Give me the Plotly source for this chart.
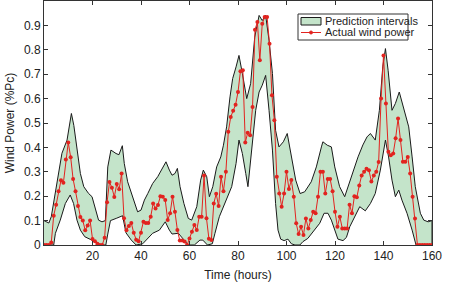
import plotly.graph_objects as go

# Actual wind power, hourly from t=0 to t=160
hours = list(range(0, 161))
actual = [
    0, 0, 0, 0.01, 0.12, 0.165, 0.22, 0.265, 0.255, 0.35,          # 0-9
    0.42, 0.36, 0.27, 0.22, 0.16, 0.115, 0.10, 0.06, 0.08, 0.10,   # 10-19
    0.025, 0.015, 0.005, 0, 0, 0.03, 0.175, 0.258, 0.235, 0.197,   # 20-29
    0.25, 0.228, 0.293, 0.11, 0.06, 0.078, 0.09, 0.05, 0.022, 0.015,  # 30-39
    0.05, 0.095, 0.09, 0.09, 0.116, 0.17, 0.15, 0.164, 0.2, 0.198,    # 40-49
    0.184, 0.102, 0.13, 0.198, 0.136, 0.061, 0.018, 0.018, 0.014, 0,  # 50-59
    0.027, 0.054, 0.082, 0.061, 0.116, 0.116, 0.285, 0.11, 0.026, 0.02,  # 60-69
    0.17, 0.21, 0.16, 0.28, 0.22, 0.30, 0.464, 0.525, 0.55, 0.575,   # 70-79
    0.627, 0.712, 0.716, 0.42, 0.46, 0.45, 0.566, 0.882, 0.914, 0.757,  # 80-89
    0.907, 0.934, 0.934, 0.825, 0.614, 0.511, 0.28, 0.211, 0.157, 0.211,  # 90-99
    0.30, 0.23, 0.266, 0.198, 0.089, 0.045, 0.075, 0.041, 0.109, 0.068,  # 100-109
    0.102, 0.136, 0.13, 0.198, 0.30, 0.30, 0.211, 0.27, 0.27, 0.22,    # 110-119
    0.136, 0.075, 0.116, 0.068, 0.068, 0.068, 0.165, 0.13, 0.2, 0.196,  # 120-129
    0.244, 0.285, 0.30, 0.312, 0.306, 0.26, 0.285, 0.30, 0.34, 0.6,    # 130-139
    0.777, 0.58, 0.382, 0.368, 0.375, 0.437, 0.518, 0.43, 0.341, 0.341,  # 140-149
    0.361, 0.293, 0.198, 0.109, 0, 0, 0, 0, 0, 0,                       # 150-159
    0,                                                                   # 160
]

# Upper prediction bound (time, value)
upper_t = [0, 1, 2, 3, 5.4, 7.4, 9.5, 11.3, 12.3, 13.6, 15, 16.4, 18.4, 19.8, 21.2,
           22.5, 23.9, 25.3, 26.3, 27.6, 29.7, 30.9, 32.3, 33.1, 34.5, 36.6, 38.6,
           40, 41.4, 42.8, 44.8, 46.9, 48.7, 50.3, 51.7, 52.8, 54, 55, 56.1, 57.7,
           59.5, 60.9, 63, 64.6, 65.7, 67.1, 68.2, 69.6, 71.2, 72.9, 74, 75.3, 76.7,
           77.8, 79.2, 80.4, 81.8, 83.6, 85.2, 86.9, 88.7, 90, 91.4, 92.8, 94.2,
           95.5, 96.9, 98.7, 100.3, 102, 103.8, 105.6, 107.5, 110.2, 112.3, 114.4,
           115, 116.8, 118.5, 119.9, 121.9, 124, 125.4, 127.4, 129.5, 131.5, 133.2,
           134.6, 136.6, 138.3, 139.7, 140.8, 141.9, 143.5, 144.9, 146.5, 148.3,
           150.4, 151.8, 153.1, 155.2, 156.6, 158.4, 160]
upper_v = [0.1, 0.095, 0.09, 0.116, 0.266, 0.376, 0.43, 0.539, 0.49, 0.389, 0.293,
           0.239, 0.211, 0.198, 0.143, 0.102, 0.095, 0.1, 0.32, 0.389, 0.375, 0.37,
           0.407, 0.334, 0.259, 0.198, 0.136, 0.143, 0.184, 0.211, 0.252, 0.28,
           0.314, 0.341, 0.307, 0.286, 0.293, 0.314, 0.239, 0.17, 0.109, 0.102,
           0.157, 0.266, 0.307, 0.28, 0.198, 0.239, 0.32, 0.361, 0.409, 0.484,
           0.607, 0.682, 0.73, 0.777, 0.703, 0.6, 0.661, 0.852, 0.941, 0.92, 0.941,
           0.839, 0.703, 0.47, 0.402, 0.423, 0.457, 0.361, 0.266, 0.211, 0.218,
           0.259, 0.32, 0.402, 0.423, 0.409, 0.402, 0.32, 0.239, 0.198, 0.239,
           0.293, 0.361, 0.41, 0.443, 0.457, 0.43, 0.552, 0.73, 0.805, 0.716,
           0.552, 0.58, 0.627, 0.566, 0.484, 0.361, 0.239, 0.13, 0.102, 0.095, 0.1]

# Lower prediction bound (time, value)
lower_t = [0, 4, 4.7, 6.7, 8.8, 10.8, 12.2, 13.6, 15, 16.8, 19.1, 21.3, 23, 25.5,
           26.3, 27.4, 30, 32.4, 33.8, 36, 38, 40.7, 42.8, 44.8, 47.6, 50, 51.7,
           52.8, 55.4, 57.5, 59.5, 62, 64.3, 65.5, 67.4, 69.4, 70.5, 72.3, 74, 76,
           77.4, 79.2, 80.4, 81.8, 83.2, 84.1, 85.9, 87.3, 88.7, 90, 91.4, 92.8,
           94.2, 95.5, 96.5, 97.6, 99, 100.6, 102, 103.5, 105.5, 106.8, 108.8,
           111.6, 113.7, 115.5, 117.1, 118.5, 119.9, 121.2, 123.3, 124.7, 126.1,
           128.1, 130.2, 132.5, 134.6, 136.6, 138.7, 140.8, 142.1, 143.5, 144.9,
           146.3, 147.6, 149.7, 151.8, 153.4, 160]
lower_v = [0, 0, 0.048, 0.102, 0.17, 0.205, 0.17, 0.102, 0.061, 0.034, 0.023,
           0.014, 0, 0, 0.045, 0.1, 0.11, 0.12, 0.05, 0.02, 0, 0.005, 0.027, 0.048,
           0.061, 0.095, 0.061, 0.045, 0.048, 0.024, 0, 0, 0.02, 0.02, 0, 0.005,
           0.048, 0.116, 0.157, 0.205, 0.239, 0.334, 0.43, 0.375, 0.293, 0.239,
           0.416, 0.552, 0.627, 0.655, 0.695, 0.552, 0.389, 0.17, 0.061, 0.024,
           0.018, 0.024, 0.005, 0, 0, 0.014, 0.027, 0.061, 0.089, 0.13, 0.13,
           0.102, 0.061, 0.024, 0.018, 0.031, 0.075, 0.116, 0.157, 0.14, 0.17,
           0.211, 0.307, 0.43, 0.361, 0.266, 0.198, 0.225, 0.184, 0.13, 0.061, 0, 0]

x_ticks = [20, 40, 60, 80, 100, 120, 140, 160]
y_ticks = [0, 0.1, 0.2, 0.3, 0.4, 0.5, 0.6, 0.7, 0.8, 0.9]
y_tick_text = ["0", "0.1", "0.2", "0.3", "0.4", "0.5", "0.6", "0.7", "0.8", "0.9"]
legend_labels = ["Prediction intervals", "Actual wind power"]

FILL = "rgb(196,228,202)"
EDGE = "#1a1a1a"
RED = "#e2231f"
FONT = "Liberation Sans, Arial, sans-serif"

band_x = upper_t + lower_t[::-1]
band_y = upper_v + lower_v[::-1]

fig = go.Figure()
fig.add_trace(go.Scatter(
    x=band_x, y=band_y, fill="toself", mode="lines",
    fillcolor=FILL, line=dict(color=EDGE, width=1),
    name=legend_labels[0], hoverinfo="skip", showlegend=False,
))
fig.add_trace(go.Scatter(
    x=hours, y=actual, mode="lines+markers",
    line=dict(color=RED, width=1),
    marker=dict(color=RED, size=4),
    name=legend_labels[1], showlegend=False,
))

axis_common = dict(
    showline=True, linecolor="#333", linewidth=1, mirror="allticks",
    ticks="inside", ticklen=4, tickcolor="#333", showgrid=False, zeroline=False,
    tickfont=dict(family=FONT, size=12, color="#222"),
)
fig.update_xaxes(range=[0, 160], tickvals=x_ticks, **axis_common,
                 title=dict(text="Time (hours)", standoff=8,
                            font=dict(family=FONT, size=12, color="#222")))
fig.update_yaxes(range=[0, 1], tickvals=y_ticks, ticktext=y_tick_text, **axis_common,
                 title=dict(text="Wind Power (%Pc)", standoff=6,
                            font=dict(family=FONT, size=12, color="#222")))

# Compact legend box (drawn in paper coordinates, like the original's)
W, H = 450, 284
L, R, T, B = 44, 18, 1, 39
pw, ph = W - L - R, H - T - B
def px(xp):
    return (xp - L) / pw
def py(yp):
    return (H - B - yp) / ph

shapes = [
    dict(type="rect", xref="paper", yref="paper", x0=px(298), x1=px(408), y0=py(40), y1=py(14),
         line=dict(color="#333", width=1), fillcolor="white", layer="above"),
    dict(type="rect", xref="paper", yref="paper", x0=px(301), x1=px(321), y0=py(25), y1=py(17.5),
         line=dict(color=EDGE, width=1), fillcolor=FILL, layer="above"),
    dict(type="line", xref="paper", yref="paper", x0=px(301), x1=px(321), y0=py(32.5), y1=py(32.5),
         line=dict(color=RED, width=1), layer="above"),
    dict(type="circle", xref="paper", yref="paper", x0=px(309.5), x1=px(312.5), y0=py(34), y1=py(31),
         line=dict(color=RED, width=1), fillcolor=RED, layer="above"),
]
annotations = [
    dict(text=legend_labels[0], xref="paper", yref="paper", x=px(323), y=py(21.2),
         xanchor="left", yanchor="middle", showarrow=False,
         font=dict(family=FONT, size=11, color="#222")),
    dict(text=legend_labels[1], xref="paper", yref="paper", x=px(323), y=py(32.5),
         xanchor="left", yanchor="middle", showarrow=False,
         font=dict(family=FONT, size=11, color="#222")),
]

fig.update_layout(
    width=W, height=H,
    margin=dict(l=L, r=R, t=T, b=B),
    paper_bgcolor="white", plot_bgcolor="white",
    showlegend=False,
    shapes=shapes, annotations=annotations,
)

fig.write_html("out.html")
